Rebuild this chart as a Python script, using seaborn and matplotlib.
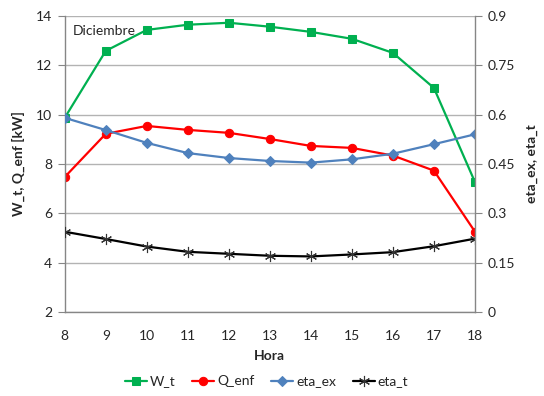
import pandas as pd
import matplotlib
matplotlib.use("Agg")
import matplotlib.pyplot as plt
import seaborn as sns

# ---------------------------------
# Data
# ---------------------------------

hora = [8, 9, 10, 11, 12, 13, 14, 15, 16, 17, 18]
w_t = [9.87, 12.58, 13.43, 13.64, 13.72, 13.56, 13.35, 13.07, 12.50, 11.08, 7.27]
q_enf = [7.47, 9.22, 9.54, 9.38, 9.26, 9.01, 8.73, 8.65, 8.34, 7.73, 5.26]
eta_ex = [0.590, 0.553, 0.514, 0.483, 0.468, 0.459, 0.454, 0.464, 0.481, 0.510, 0.540]
eta_t = [0.244, 0.222, 0.199, 0.183, 0.177, 0.171, 0.169, 0.175, 0.182, 0.200, 0.223]

left_ticks = [2, 4, 6, 8, 10, 12, 14]
right_ticks = [0, 0.15, 0.3, 0.45, 0.6, 0.75, 0.9]
right_labels = ["0", "0.15", "0.3", "0.45", "0.6", "0.75", "0.9"]

df = pd.DataFrame({"Hora": hora, "W_t": w_t, "Q_enf": q_enf,
                   "eta_ex": eta_ex, "eta_t": eta_t})

# ---------------------------------
# Style
# ---------------------------------

sns.set_style("white")
plt.rcParams["font.family"] = ["Lato", "DejaVu Sans"]
plt.rcParams["font.size"] = 10

fig = plt.figure(figsize=(5.44, 3.96), dpi=100)
ax = fig.add_axes([0.119, 0.212, 0.754, 0.748])
ax2 = ax.twinx()

grid_c = "#b3b3b3"

sns.lineplot(data=df, x="Hora", y="W_t", ax=ax, color="#00b050", marker="s",
             markersize=6, markeredgecolor="#00b050", linewidth=1.6, label="W_t", legend=False)
sns.lineplot(data=df, x="Hora", y="Q_enf", ax=ax, color="#ff0000", marker="o",
             markersize=6, markeredgecolor="#ff0000", linewidth=1.6, label="Q_enf", legend=False)
sns.lineplot(data=df, x="Hora", y="eta_ex", ax=ax2, color="#4f81bd", marker="D",
             markersize=5, markeredgecolor="#4f81bd", linewidth=1.6, label="eta_ex", legend=False)
sns.lineplot(data=df, x="Hora", y="eta_t", ax=ax2, color="black", marker=(6, 2, 0),
             markersize=8, markeredgewidth=0.8, markeredgecolor="#333333", linewidth=1.6,
             label="eta_t", legend=False)

# ---------------------------------
# Axes
# ---------------------------------

ax.set_xlim(8, 18)
ax.set_ylim(2, 14)
ax.set_xticks(hora)
ax.set_yticks(left_ticks)
ax.yaxis.grid(True, color=grid_c, linewidth=1)
ax.set_axisbelow(True)

ax2.set_ylim(0, 0.9)
ax2.set_yticks(right_ticks)
ax2.set_yticklabels(right_labels)

for a in (ax, ax2):
    for s in a.spines.values():
        s.set_visible(False)
ax.spines["left"].set_visible(True)
ax.spines["bottom"].set_visible(True)
ax2.spines["right"].set_visible(True)
for s in (ax.spines["left"], ax.spines["bottom"], ax2.spines["right"]):
    s.set_color("#868686")
    s.set_linewidth(1)

ax.tick_params(axis="both", length=5, color="#868686", labelsize=10, pad=4)
ax2.tick_params(axis="y", length=5, color="#868686", labelsize=10, pad=4)
ax.tick_params(axis="x", pad=8)

ax.set_xlabel("Hora", fontweight="bold", fontsize=10, labelpad=6)
ax.set_ylabel("W_t, Q_enf [kW]", fontweight="bold", fontsize=10, labelpad=8)
ax2.set_ylabel("eta_ex, eta_t", fontweight="bold", fontsize=10, labelpad=8)

ax.text(0.02, 0.95, "Diciembre", transform=ax.transAxes, fontsize=10,
        va="center", ha="left")

# ---------------------------------
# Legend
# ---------------------------------

h1, l1 = ax.get_legend_handles_labels()
h2, l2 = ax2.get_legend_handles_labels()
fig.legend(h1 + h2, l1 + l2, loc="lower center", ncol=4, frameon=False,
           bbox_to_anchor=(0.49, -0.01), fontsize=10, handlelength=1.6,
           handletextpad=0.2, columnspacing=1.2)

plt.savefig("out.png", dpi=100)
